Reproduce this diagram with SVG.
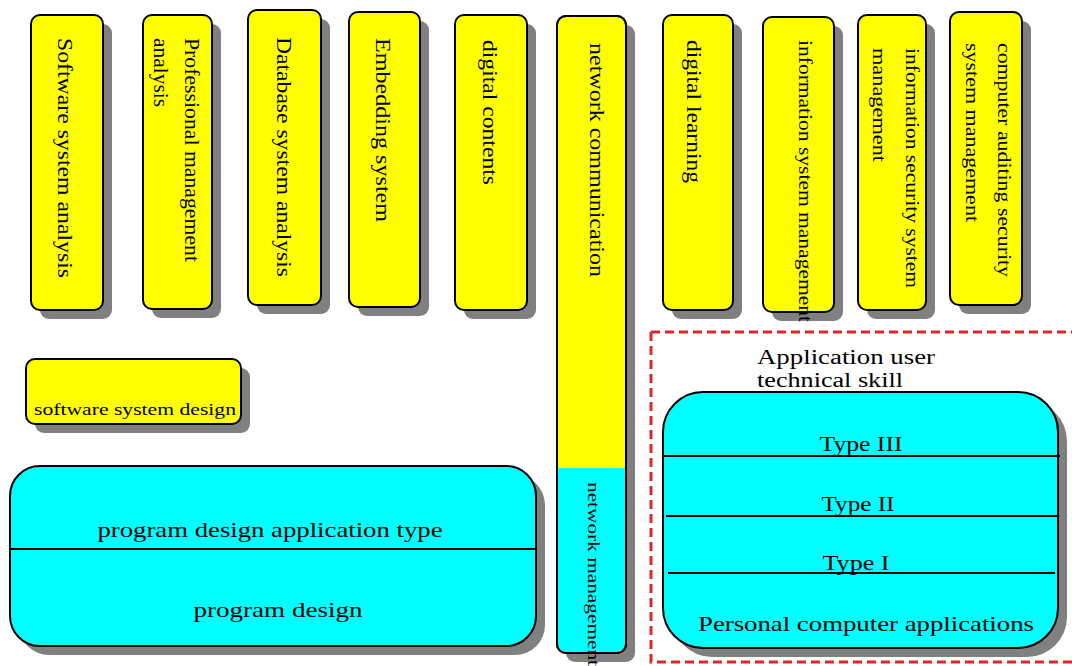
<svg xmlns="http://www.w3.org/2000/svg" width="1072" height="666" viewBox="0 0 1072 666">
<defs>
<style>
.sh{fill:#808080;}
.y{fill:#ffff00;stroke:#000;stroke-width:2;}
.c{fill:#00ffff;stroke:#000;stroke-width:2;}
.o{fill:none;stroke:#000;stroke-width:2;}
.t{font-family:"Liberation Serif","Times New Roman",serif;fill:#000;}
.v{font-size:20px;}
.dl{stroke:#000;stroke-width:2;}
</style>
</defs>
<rect width="1072" height="666" fill="#fff"/>

<g id="frame">
<path d="M651,332 H1080 M651,332 V662 H1080" fill="none" stroke="#e0262a" stroke-width="3" stroke-dasharray="9,5"/>
</g>

<g id="n1">
<rect class="sh" x="40" y="24" width="72" height="295" rx="9"/>
<rect class="y" x="31" y="15" width="72" height="295" rx="9"/>
<text class="t v" transform="translate(65,38) rotate(90)" dy="0.35em" textLength="240" lengthAdjust="spacingAndGlyphs">Software system analysis</text>
</g>
<g id="n2">
<rect class="sh" x="152" y="24" width="69" height="294" rx="9"/>
<rect class="y" x="143" y="15" width="69" height="294" rx="9"/>
<text class="t v" transform="translate(192,38) rotate(90)" dy="0.35em" textLength="224" lengthAdjust="spacingAndGlyphs">Professional management</text>
<text class="t v" transform="translate(161,38) rotate(90)" dy="0.35em" textLength="69" lengthAdjust="spacingAndGlyphs">analysis</text>
</g>
<g id="n3">
<rect class="sh" x="257" y="19" width="73" height="295" rx="9"/>
<rect class="y" x="248" y="10" width="73" height="295" rx="9"/>
<text class="t v" transform="translate(284,37) rotate(90)" dy="0.35em" textLength="240" lengthAdjust="spacingAndGlyphs">Database system analysis</text>
</g>
<g id="n4">
<rect class="sh" x="358" y="21" width="71" height="295" rx="9"/>
<rect class="y" x="349" y="12" width="71" height="295" rx="9"/>
<text class="t v" transform="translate(383,38) rotate(90)" dy="0.35em" textLength="184" lengthAdjust="spacingAndGlyphs">Embedding system</text>
</g>
<g id="n5">
<rect class="sh" x="464" y="24" width="72" height="295" rx="9"/>
<rect class="y" x="455" y="15" width="72" height="295" rx="9"/>
<text class="t v" transform="translate(490,40) rotate(90)" dy="0.35em" textLength="145" lengthAdjust="spacingAndGlyphs">digital contents</text>
</g>
<g id="n6">
<rect class="sh" x="566" y="25" width="69" height="637" rx="9"/>
<rect class="y" x="557" y="16" width="69" height="637" rx="9"/>
<path d="M557,468 H626 V644 Q626,653 617,653 H566 Q557,653 557,644 Z" fill="#00ffff"/>
<rect class="o" x="557" y="16" width="69" height="637" rx="9"/>
<text class="t v" transform="translate(597,43) rotate(90)" dy="0.35em" textLength="234" lengthAdjust="spacingAndGlyphs">network communication</text>
<text class="t" font-size="17" transform="translate(594,482) rotate(90)" dy="0.35em" textLength="184" lengthAdjust="spacingAndGlyphs">network management</text>
</g>
<g id="n7">
<rect class="sh" x="672" y="24" width="70" height="295" rx="9"/>
<rect class="y" x="663" y="15" width="70" height="295" rx="9"/>
<text class="t v" transform="translate(694,40) rotate(90)" dy="0.35em" textLength="143" lengthAdjust="spacingAndGlyphs">digital learning</text>
</g>
<g id="n8">
<rect class="sh" x="772" y="26" width="71" height="295" rx="9"/>
<rect class="y" x="763" y="17" width="71" height="295" rx="9"/>
<text class="t" font-size="18" transform="translate(805,40) rotate(90)" dy="0.35em" textLength="282" lengthAdjust="spacingAndGlyphs">information system management</text>
</g>
<g id="n9">
<rect class="sh" x="867" y="24" width="68" height="295" rx="9"/>
<rect class="y" x="858" y="15" width="68" height="295" rx="9"/>
<text class="t" font-size="18" transform="translate(912,48) rotate(90)" dy="0.35em" textLength="240" lengthAdjust="spacingAndGlyphs">information security system</text>
<text class="t" font-size="18" transform="translate(879,48) rotate(90)" dy="0.35em" textLength="114" lengthAdjust="spacingAndGlyphs">management</text>
</g>
<g id="n10">
<rect class="sh" x="959" y="21" width="72" height="293" rx="9"/>
<rect class="y" x="950" y="12" width="72" height="293" rx="9"/>
<text class="t" font-size="18" transform="translate(1004,43) rotate(90)" dy="0.35em" textLength="234" lengthAdjust="spacingAndGlyphs">computer auditing security</text>
<text class="t" font-size="18" transform="translate(972,43) rotate(90)" dy="0.35em" textLength="179" lengthAdjust="spacingAndGlyphs">system management</text>
</g>

<g id="n11">
<rect class="sh" x="35" y="368" width="215" height="65" rx="9"/>
<rect class="y" x="26" y="359" width="215" height="65" rx="9"/>
<text class="t" font-size="17" x="34" y="415" textLength="202" lengthAdjust="spacingAndGlyphs">software system design</text>
</g>

<g id="n12">
<rect class="sh" x="19" y="475" width="526" height="180" rx="30"/>
<rect class="c" x="10" y="466" width="526" height="180" rx="30"/>
<line class="dl" x1="10" y1="549" x2="536" y2="549"/>
<text class="t" font-size="22" x="270" y="537" text-anchor="middle" textLength="345" lengthAdjust="spacingAndGlyphs">program design application type</text>
<text class="t" font-size="22" x="278" y="617" text-anchor="middle" textLength="169" lengthAdjust="spacingAndGlyphs">program design</text>
</g>

<g id="n13">
<text class="t" font-size="20" x="757" y="364" textLength="178" lengthAdjust="spacingAndGlyphs">Application user</text>
<text class="t" font-size="20" x="757" y="387" textLength="146" lengthAdjust="spacingAndGlyphs">technical skill</text>
</g>

<g id="n14">
<rect class="sh" x="672" y="401" width="395" height="256" rx="40"/>
<rect class="c" x="663" y="392" width="395" height="256" rx="40"/>
<line class="dl" x1="663" y1="456" x2="1060" y2="456"/>
<line class="dl" x1="666" y1="516" x2="1057" y2="516"/>
<line class="dl" x1="668" y1="573" x2="1055" y2="573"/>
<text class="t" font-size="21" x="861" y="451" text-anchor="middle" textLength="83" lengthAdjust="spacingAndGlyphs">Type III</text>
<text class="t" font-size="21" x="858" y="511" text-anchor="middle" textLength="73" lengthAdjust="spacingAndGlyphs">Type II</text>
<text class="t" font-size="21" x="856" y="570" text-anchor="middle" textLength="67" lengthAdjust="spacingAndGlyphs">Type I</text>
<text class="t" font-size="21" x="698" y="631" textLength="336" lengthAdjust="spacingAndGlyphs">Personal computer applications</text>
</g>

<g id="connectors"/>
</svg>
